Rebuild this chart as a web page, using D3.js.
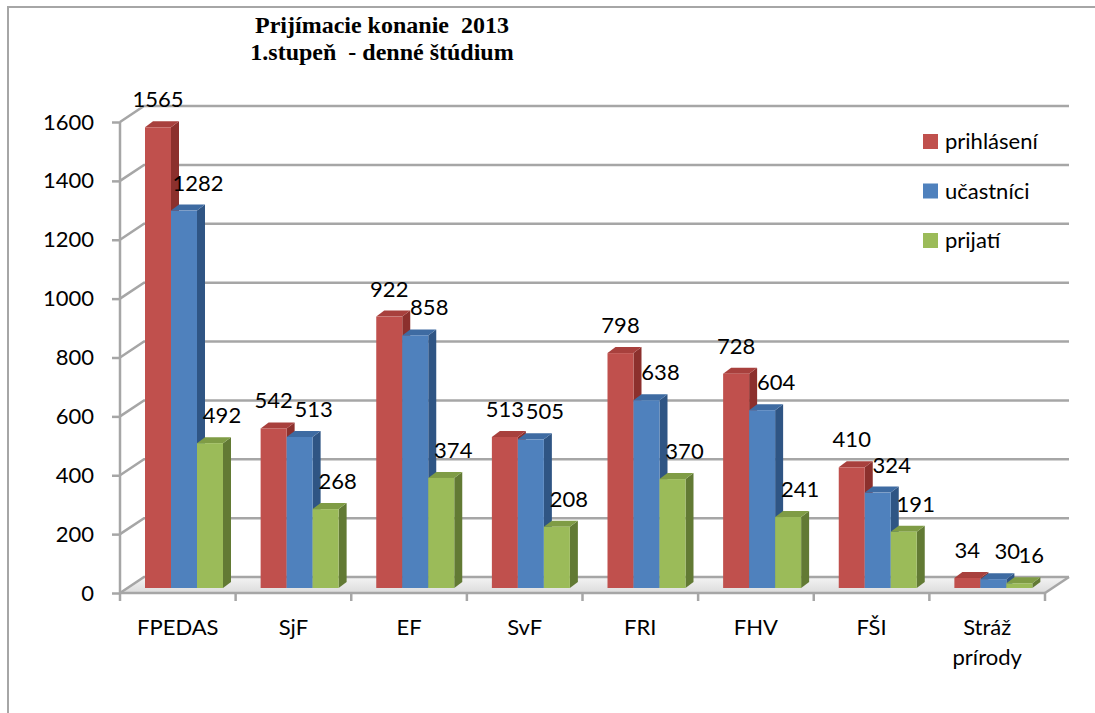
<!DOCTYPE html>
<html>
<head>
<meta charset="utf-8">
<script src="https://cdn.jsdelivr.net/npm/d3@7"></script>
<style>
  body { margin: 0; background: #fff; }
  text { font-family: Lato, "Open Sans", sans-serif; }
</style>
</head>
<body>
<svg width="1095" height="713"></svg>
<script>
// data
var categories = ["FPEDAS", "SjF", "EF", "SvF", "FRI", "FHV", "FŠI", "Stráž prírody"];
var seriesNames = ["prihlásení", "učastníci", "prijatí"];
var prihlaseni = [1565, 542, 922, 513, 798, 728, 410, 34];
var ucastnici = [1282, 513, 858, 505, 638, 604, 324, 30];
var prijati = [492, 268, 374, 208, 370, 241, 191, 16];
var yTicks = [0, 200, 400, 600, 800, 1000, 1200, 1400, 1600];
var titleLines = ["Prijímacie konanie  2013", "1.stupeň  - denné štúdium"];

var series = [prihlaseni, ucastnici, prijati];
var front = ["#C0504D", "#4F81BD", "#9BBB59"],
    side  = ["#8C302D", "#2F5584", "#627A34"],
    top_  = ["#A8403D", "#3E6BA2", "#7F9C45"];
var labelDx = [0, 14, 12];   // nudge of value labels per series

var svg = d3.select("svg");
var gray = "#a6a6a6";

// depth offsets of the 3d box
var dx = 24, dy = -16;
var barDx = 8, barDy = -6, barW = 26;

var xScale = d3.scaleBand().domain(categories).range([120, 1045]).padding(0);
var yFront = d3.scaleLinear().domain([0, 1600]).range([593, 122]);
var yBar = d3.scaleLinear().domain([0, 1600]).range([588, 117]);

// outer frame
svg.append("rect").attr("x", 8).attr("y", 7).attr("width", 1100).attr("height", 720)
  .attr("fill", "none").attr("stroke", gray).attr("stroke-width", 2);

// title, one text per line
svg.selectAll(".title").data(titleLines).enter().append("text")
  .attr("class", "title")
  .attr("x", 382).attr("y", (d, i) => 33 + i * 27)
  .attr("text-anchor", "middle")
  .style("font-family", "'Liberation Serif', 'Times New Roman', serif")
  .style("font-weight", "bold").style("font-size", "24px")
  .style("white-space", "pre")
  .text(d => d);

// floor
var defs = svg.append("defs");
var grad = defs.append("linearGradient").attr("id", "floorGrad")
  .attr("x1", 0).attr("y1", 0).attr("x2", 0).attr("y2", 1);
grad.append("stop").attr("offset", "0%").attr("stop-color", "#f4f4f4");
grad.append("stop").attr("offset", "100%").attr("stop-color", "#dcdcdc");

var x0 = 120, x1 = 1045, yb = yFront(0);
svg.append("path")
  .attr("d", `M${x0},${yb}L${x0 + dx},${yb + dy}L${x1 + dx},${yb + dy}L${x1},${yb}Z`)
  .attr("fill", "url(#floorGrad)");

// back wall gridlines + side wall diagonals
var grid = svg.append("g").attr("stroke", gray).attr("stroke-width", 2.5).attr("fill", "none");
yTicks.forEach(function(t) {
  var y = yFront(t);
  grid.append("path").attr("d", `M${x0},${y}L${x0 + dx},${y + dy}L${x1 + dx},${y + dy}`);
});
// floor right edge
grid.append("path").attr("d", `M${x1},${yb}L${x1 + dx},${yb + dy}`);

// bars
categories.forEach(function(c, ci) {
  series.forEach(function(s, si) {
    var v = s[ci];
    var bx = xScale(c) + 25 + si * barW;
    var bt = yBar(v), bb = yBar(0);
    var g = svg.append("g");
    g.append("path")
      .attr("d", `M${bx + barW},${bt}L${bx + barW + barDx},${bt + barDy}L${bx + barW + barDx},${bb + barDy}L${bx + barW},${bb}Z`)
      .attr("fill", side[si]);
    g.append("path")
      .attr("d", `M${bx},${bt}L${bx + barDx},${bt + barDy}L${bx + barW + barDx},${bt + barDy}L${bx + barW},${bt}Z`)
      .attr("fill", top_[si]);
    g.append("rect").attr("x", bx).attr("y", bt).attr("width", barW).attr("height", bb - bt)
      .attr("fill", front[si]);
  });
});

// value labels
categories.forEach(function(c, ci) {
  series.forEach(function(s, si) {
    var v = s[ci];
    var bx = xScale(c) + 25 + si * barW;
    svg.append("text")
      .attr("x", bx + barW / 2 + labelDx[si])
      .attr("y", yBar(v) - 20)
      .attr("text-anchor", "middle")
      .style("font-size", "22px")
      .text(v);
  });
});

// front value axis
var yAxis = d3.axisLeft(yFront).tickValues(yTicks).tickSize(8).tickPadding(18).tickFormat(d3.format("d"));
var ya = svg.append("g").attr("transform", "translate(120,0)").call(yAxis);
ya.selectAll("line, path").attr("stroke", gray).attr("stroke-width", 2.5);
ya.select(".domain").attr("d", `M0,${yFront(1600)}V${yFront(0)}`);
ya.selectAll("text").style("font-family", "Lato, sans-serif").style("font-size", "22px").attr("fill", "#000");

// front category axis
var xAxis = d3.axisBottom(xScale).tickSize(0).tickFormat("");
var xa = svg.append("g").attr("transform", `translate(0,${yb})`).call(xAxis);
xa.select(".domain").attr("stroke", gray).attr("stroke-width", 2.5).attr("d", `M${x0},0H${x1}`);
xScale.domain().concat([null]).forEach(function(c, i) {
  var x = i < categories.length ? xScale(c) : x1;
  xa.append("line").attr("x1", x).attr("x2", x).attr("y1", 0).attr("y2", 8)
    .attr("stroke", gray).attr("stroke-width", 2.5);
});
categories.forEach(function(c) {
  var t = xa.append("text").attr("text-anchor", "middle").attr("fill", "#000")
    .style("font-size", "22px").attr("y", 42);
  var words = c === "Stráž prírody" ? ["Stráž", "prírody"] : [c];
  words.forEach(function(w, i) {
    t.append("tspan").attr("x", xScale(c) + xScale.bandwidth() / 2).attr("dy", i ? 30 : 0).text(w);
  });
});

// legend
var leg = svg.append("g").attr("transform", "translate(923,134)");
seriesNames.forEach(function(n, i) {
  leg.append("rect").attr("x", 0).attr("y", i * 49.5).attr("width", 15).attr("height", 15).attr("fill", front[i]);
  leg.append("text").attr("x", 22).attr("y", i * 49.5 + 15).style("font-size", "22px").text(n);
});
</script>
</body>
</html>
